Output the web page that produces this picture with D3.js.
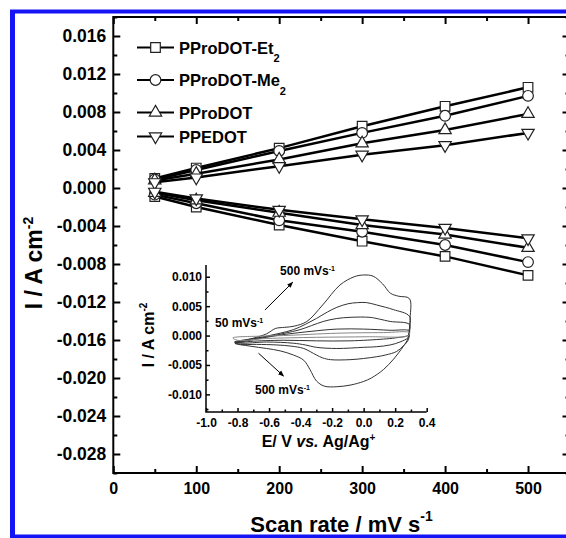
<!DOCTYPE html>
<html>
<head>
<meta charset="utf-8">
<script src="https://cdn.jsdelivr.net/npm/d3@7"></script>
<style>
  html, body { margin: 0; padding: 0; background: #fff; }
  svg { display: block; font-family: Arial, 'Liberation Sans', sans-serif; font-weight: bold; }
</style>
</head>
<body>
<svg width="566" height="538"></svg>
<script>
// main plot: peak current vs scan rate
var scanRates = [50, 100, 200, 300, 400, 500];
var et2Ox = [0.0010, 0.0021, 0.0042, 0.0065, 0.0086, 0.0106];
var et2Red = [-0.0009, -0.0020, -0.0039, -0.0056, -0.0072, -0.0092];
var me2Ox = [0.0009, 0.0019, 0.0039, 0.0058, 0.0076, 0.0097];
var me2Red = [-0.0007, -0.0016, -0.0034, -0.0046, -0.0060, -0.0078];
var prodotOx = [0.0008, 0.0015, 0.0030, 0.0047, 0.0061, 0.0078];
var prodotRed = [-0.0005, -0.0013, -0.0026, -0.0039, -0.0049, -0.0063];
var pedotOx = [0.0006, 0.0011, 0.0023, 0.0035, 0.0045, 0.0058];
var pedotRed = [-0.0004, -0.0011, -0.0023, -0.0033, -0.0042, -0.0053];
var seriesNames = ['PProDOT-Et', 'PProDOT-Me', 'PProDOT', 'PPEDOT'];
var seriesSubs = ['2', '2', '', ''];

var xTicks = [0, 100, 200, 300, 400, 500];
var xMinor = [50, 150, 250, 350, 450, 550];
var yTicks = [-0.028, -0.024, -0.020, -0.016, -0.012, -0.008, -0.004, 0.000, 0.004, 0.008, 0.012, 0.016];
var yMinor = [-0.030, -0.026, -0.022, -0.018, -0.014, -0.010, -0.006, -0.002, 0.002, 0.006, 0.010, 0.014, 0.018];

// inset: cyclic voltammograms [E, I]
var cv500 = [[-0.816, -0.0013], [-0.72, -0.0006], [-0.615, 0.0003], [-0.56, 0.0012], [-0.50, 0.0014],
  [-0.44, 0.0016], [-0.36, 0.0024], [-0.26, 0.0052], [-0.15, 0.0086], [-0.06, 0.0100], [0.0, 0.0103],
  [0.06, 0.0101], [0.12, 0.0088], [0.17, 0.0072], [0.22, 0.0067], [0.29, 0.0063], [0.295, 0.0030],
  [0.285, 0.0000], [0.28, -0.0006], [0.25, -0.0019], [0.19, -0.0040], [0.125, -0.0058], [0.05, -0.0072],
  [0.0, -0.0078], [-0.08, -0.0084], [-0.17, -0.0087], [-0.25, -0.0086], [-0.30, -0.0077], [-0.34, -0.0058],
  [-0.38, -0.0042], [-0.446, -0.0033], [-0.53, -0.0026], [-0.615, -0.0022], [-0.72, -0.0018]];
var cv300 = [[-0.816, -0.0012], [-0.70, -0.0006], [-0.615, -0.0001], [-0.53, 0.0004], [-0.446, 0.0010],
  [-0.37, 0.0019], [-0.30, 0.0029], [-0.23, 0.0040], [-0.17, 0.0048], [-0.10, 0.0054], [-0.04, 0.0056],
  [0.02, 0.0056], [0.083, 0.0052], [0.14, 0.0048], [0.19, 0.0044], [0.29, 0.0033], [0.29, 0.0010],
  [0.284, -0.0007], [0.25, -0.0018], [0.21, -0.0027], [0.14, -0.0033], [0.083, -0.0036], [0.0, -0.0039],
  [-0.086, -0.0041], [-0.21, -0.0041], [-0.26, -0.0038], [-0.30, -0.0033], [-0.38, -0.0022],
  [-0.46, -0.0018], [-0.55, -0.0016], [-0.68, -0.0015], [-0.78, -0.0015]];
var cv200 = [[-0.82, -0.0011], [-0.70, -0.0005], [-0.59, -0.0001], [-0.50, 0.0004], [-0.404, 0.0010],
  [-0.33, 0.0017], [-0.256, 0.0024], [-0.17, 0.0029], [-0.086, 0.0031], [0.04, 0.0031], [0.10, 0.0028],
  [0.168, 0.0024], [0.29, 0.0019], [0.29, 0.0005], [0.284, -0.0003], [0.23, -0.0011], [0.168, -0.0016],
  [0.08, -0.0019], [0.0, -0.0020], [-0.17, -0.0022], [-0.30, -0.0020], [-0.37, -0.0016],
  [-0.446, -0.0013], [-0.615, -0.0011], [-0.78, -0.0013]];
var cv100 = [[-0.816, -0.0013], [-0.68, -0.0006], [-0.55, 0.0000], [-0.44, 0.0004], [-0.34, 0.0007],
  [-0.17, 0.0011], [0.0, 0.0011], [0.168, 0.0009], [0.29, 0.0008], [0.285, 0.0001], [0.20, -0.0004],
  [0.125, -0.0006], [-0.086, -0.0009], [-0.30, -0.0009], [-0.51, -0.0008], [-0.72, -0.0010]];
var cv50 = [[-0.83, -0.0004], [-0.66, -0.0001], [-0.51, 0.0000], [-0.17, 0.0004], [0.125, 0.0005],
  [0.29, 0.0005], [0.285, 0.0000], [0.02, -0.0002], [-0.30, -0.0003], [-0.615, -0.0005], [-0.80, -0.0008]];

var insetXTicks = [-1.0, -0.8, -0.6, -0.4, -0.2, 0.0, 0.2, 0.4];
var insetXMinor = [-0.9, -0.7, -0.5, -0.3, -0.1, 0.1, 0.3];
var insetYTicks = [-0.010, -0.005, 0.000, 0.005, 0.010];
var insetYMinor = [-0.0125, -0.0075, -0.0025, 0.0025, 0.0075];

// annotations in inset data units: [E, I]
var noteTop = {text: '500 mVs', at: [-0.53, 0.0103]};
var noteMid = {text: '50 mVs', at: [-0.943, 0.0015]};
var noteBot = {text: '500 mVs', at: [-0.689, -0.0099]};
var arrowUp = [[-0.626, 0.00435], [-0.45, 0.00906]];
var arrowDown = [[-0.667, -0.0030], [-0.508, -0.00688]];

function drawChart() {
  'use strict';
  var svg = d3.select('svg');
  var plot = {left: 113.3, right: 569.5, top: 17, bottom: 473};

  var x = d3.scaleLinear().domain([0, 550]).range([plot.left, plot.right]);
  var y = d3.scaleLinear().domain([-0.030, 0.018]).range([plot.bottom, plot.top]);

  function blackTicks(g, w) {
    g.select('.domain').remove();
    g.selectAll('.tick line').attr('stroke', '#000').attr('stroke-width', w);
    g.selectAll('.tick text').attr('fill', '#000').attr('font-weight', 'bold');
  }

  // axes, ticks inward
  svg.append('g').attr('transform', 'translate(0,' + plot.bottom + ')')
    .call(d3.axisBottom(x).tickValues(xTicks).tickSizeInner(-7).tickSizeOuter(0).tickPadding(10)
      .tickFormat(function (d) { return d; }))
    .call(blackTicks, 2)
    .selectAll('text').attr('font-size', '16px').attr('font-family', null);
  svg.append('g').attr('transform', 'translate(0,' + plot.bottom + ')')
    .call(d3.axisBottom(x).tickValues(xMinor).tickSizeInner(-4).tickSizeOuter(0).tickFormat(''))
    .call(blackTicks, 2);
  svg.append('g').attr('transform', 'translate(0,' + plot.top + ')')
    .call(d3.axisTop(x).tickValues(xTicks).tickSizeInner(-7).tickSizeOuter(0).tickFormat(''))
    .call(blackTicks, 2);
  svg.append('g').attr('transform', 'translate(0,' + plot.top + ')')
    .call(d3.axisTop(x).tickValues(xMinor).tickSizeInner(-4).tickSizeOuter(0).tickFormat(''))
    .call(blackTicks, 2);

  svg.append('g').attr('transform', 'translate(' + plot.left + ',0)')
    .call(d3.axisLeft(y).tickValues(yTicks).tickSizeInner(-7).tickSizeOuter(0).tickPadding(7)
      .tickFormat(function (d) { return d.toFixed(3); }))
    .call(blackTicks, 2)
    .selectAll('text').attr('font-size', '17.5px').attr('font-family', null);
  svg.append('g').attr('transform', 'translate(' + plot.left + ',0)')
    .call(d3.axisLeft(y).tickValues(yMinor).tickSizeInner(-4).tickSizeOuter(0).tickFormat(''))
    .call(blackTicks, 2);
  svg.append('g').attr('transform', 'translate(' + plot.right + ',0)')
    .call(d3.axisRight(y).tickValues(yTicks).tickSizeInner(-7).tickSizeOuter(0).tickFormat(''))
    .call(blackTicks, 2);
  svg.append('g').attr('transform', 'translate(' + plot.right + ',0)')
    .call(d3.axisRight(y).tickValues(yMinor).tickSizeInner(-4).tickSizeOuter(0).tickFormat(''))
    .call(blackTicks, 2);

  svg.append('rect')
    .attr('x', plot.left).attr('y', plot.top)
    .attr('width', plot.right - plot.left).attr('height', plot.bottom - plot.top)
    .attr('fill', 'none').attr('stroke', '#000').attr('stroke-width', 2);

  // series
  var symbols = [d3.symbolSquare, d3.symbolCircle, d3.symbolTriangle, d3.symbolTriangle];
  var symSizes = [92, 90, 66, 66];
  var symRotate = [0, 0, 0, 180];
  var groups = [
    [et2Ox, et2Red], [me2Ox, me2Red], [prodotOx, prodotRed], [pedotOx, pedotRed]
  ];
  var line = d3.line()
    .x(function (d) { return x(d[0]); })
    .y(function (d) { return y(d[1]); });

  function marker(sel, k) {
    sel.append('path')
      .attr('d', d3.symbol().type(symbols[k]).size(symSizes[k])())
      .attr('fill', '#fff')
      .attr('stroke', '#222')
      .attr('stroke-width', 1.2);
  }

  groups.forEach(function (pair, k) {
    pair.forEach(function (vals) {
      var pts = scanRates.map(function (s, i) { return [s, vals[i]]; });
      svg.append('path')
        .attr('d', line(pts))
        .attr('fill', 'none')
        .attr('stroke', '#000')
        .attr('stroke-width', 2.5);
      svg.selectAll(null).data(pts).enter()
        .append('g')
        .attr('transform', function (d) {
          return 'translate(' + x(d[0]) + ',' + y(d[1]) + ') rotate(' + symRotate[k] + ')';
        })
        .each(function () { marker(d3.select(this), k); });
    });
  });

  // legend
  var legendRows = [47.5, 80, 112.5, 136.5];
  seriesNames.forEach(function (name, k) {
    var ly = legendRows[k];
    svg.append('line')
      .attr('x1', 137).attr('x2', 174).attr('y1', ly).attr('y2', ly)
      .attr('stroke', '#000').attr('stroke-width', 2);
    var g = svg.append('g')
      .attr('transform', 'translate(155.5,' + ly + ') rotate(' + symRotate[k] + ')');
    marker(g, k);
    var t = svg.append('text')
      .attr('x', 179).attr('y', ly + 6)
      .attr('font-size', '16.5px')
      .text(name);
    if (seriesSubs[k]) {
      t.append('tspan').attr('dy', 8.5).attr('font-size', '11px').text(seriesSubs[k]);
    }
  });

  // axis titles
  var yt = svg.append('text')
    .attr('transform', 'translate(41.5,263) rotate(-90)')
    .attr('text-anchor', 'middle')
    .attr('font-size', '23px')
    .text('I / A cm');
  yt.append('tspan').attr('dy', -9).attr('font-size', '14px').text('-2');

  var xt = svg.append('text')
    .attr('x', 341.5).attr('y', 532)
    .attr('text-anchor', 'middle')
    .attr('font-size', '22px')
    .text('Scan rate / mV s');
  xt.append('tspan').attr('dy', -11).attr('font-size', '14px').text('-1');

  // ---------- inset ----------
  var xi = d3.scaleLinear().domain([-1.0, 0.4]).range([206, 426.7]);
  var yi = d3.scaleLinear().domain([-0.013, 0.012]).range([412, 265]);

  svg.append('g').attr('transform', 'translate(0,412)')
    .call(d3.axisBottom(xi).tickValues(insetXTicks).tickSizeInner(-4).tickSizeOuter(0).tickPadding(6)
      .tickFormat(function (d) { return d.toFixed(1); }))
    .call(blackTicks, 1.5)
    .selectAll('text').attr('font-size', '12px').attr('font-family', null);
  svg.append('g').attr('transform', 'translate(0,412)')
    .call(d3.axisBottom(xi).tickValues(insetXMinor).tickSizeInner(-2.5).tickSizeOuter(0).tickFormat(''))
    .call(blackTicks, 1.5);
  svg.append('g').attr('transform', 'translate(206,0)')
    .call(d3.axisLeft(yi).tickValues(insetYTicks).tickSizeInner(-4).tickSizeOuter(0).tickPadding(4)
      .tickFormat(function (d) { return d.toFixed(3); }))
    .call(blackTicks, 1.5)
    .selectAll('text').attr('font-size', '12px').attr('font-family', null);
  svg.append('g').attr('transform', 'translate(206,0)')
    .call(d3.axisLeft(yi).tickValues(insetYMinor).tickSizeInner(-2.5).tickSizeOuter(0).tickFormat(''))
    .call(blackTicks, 1.5);
  svg.append('path')
    .attr('d', 'M' + xi(-1.0) + ',' + yi(0.012) + 'V' + yi(-0.013) + 'H' + xi(0.4))
    .attr('fill', 'none').attr('stroke', '#000').attr('stroke-width', 1.5);

  var cvLine = d3.line()
    .x(function (d) { return xi(d[0]); })
    .y(function (d) { return yi(d[1]); })
    .curve(d3.curveCatmullRomClosed.alpha(0.5));
  [cv500, cv300, cv200, cv100, cv50].forEach(function (loop, k) {
    svg.append('path')
      .attr('d', cvLine(loop))
      .attr('fill', 'none')
      .attr('stroke', k === 4 ? '#888' : '#333')
      .attr('stroke-width', 1);
  });

  // inset titles
  var iyt = svg.append('text')
    .attr('transform', 'translate(153.5,335) rotate(-90)')
    .attr('text-anchor', 'middle')
    .attr('font-size', '16px')
    .text('I / A cm');
  iyt.append('tspan').attr('dy', -7).attr('font-size', '10px').text('-2');

  var ixt = svg.append('text')
    .attr('x', 318.5).attr('y', 447)
    .attr('text-anchor', 'middle')
    .attr('font-size', '16px');
  ixt.append('tspan').text('E/ V ');
  ixt.append('tspan').attr('font-style', 'italic').text('vs.');
  ixt.append('tspan').text(' Ag/Ag');
  ixt.append('tspan').attr('dy', -6).attr('font-size', '10px').text('+');

  // annotations
  [noteTop, noteMid, noteBot].forEach(function (n) {
    var t = svg.append('text')
      .attr('x', xi(n.at[0])).attr('y', yi(n.at[1]))
      .attr('font-size', '12px')
      .text(n.text);
    t.append('tspan').attr('dy', -4).attr('font-size', '7px').text('-1');
  });

  svg.append('defs').append('marker')
    .attr('id', 'head')
    .attr('viewBox', '0 0 10 10')
    .attr('refX', 9).attr('refY', 5)
    .attr('markerWidth', 6).attr('markerHeight', 6)
    .attr('orient', 'auto')
    .append('path').attr('d', 'M0,1 L10,5 L0,9 Z').attr('fill', '#000');

  [arrowUp, arrowDown].forEach(function (a) {
    svg.append('line')
      .attr('x1', xi(a[0][0])).attr('y1', yi(a[0][1]))
      .attr('x2', xi(a[1][0])).attr('y2', yi(a[1][1]))
      .attr('stroke', '#000').attr('stroke-width', 1)
      .attr('marker-end', 'url(#head)');
  });

  // blue frame around the figure
  var blue = '#1414f5';
  svg.append('rect').attr('x', 10).attr('y', 10).attr('width', 5).attr('height', 528).attr('fill', blue);
  svg.append('rect').attr('x', 10).attr('y', 9.5).attr('width', 556).attr('height', 4).attr('fill', blue);
  svg.append('rect').attr('x', 10).attr('y', 534.5).attr('width', 556).attr('height', 4).attr('fill', blue);
}

drawChart();
</script>
</body>
</html>
